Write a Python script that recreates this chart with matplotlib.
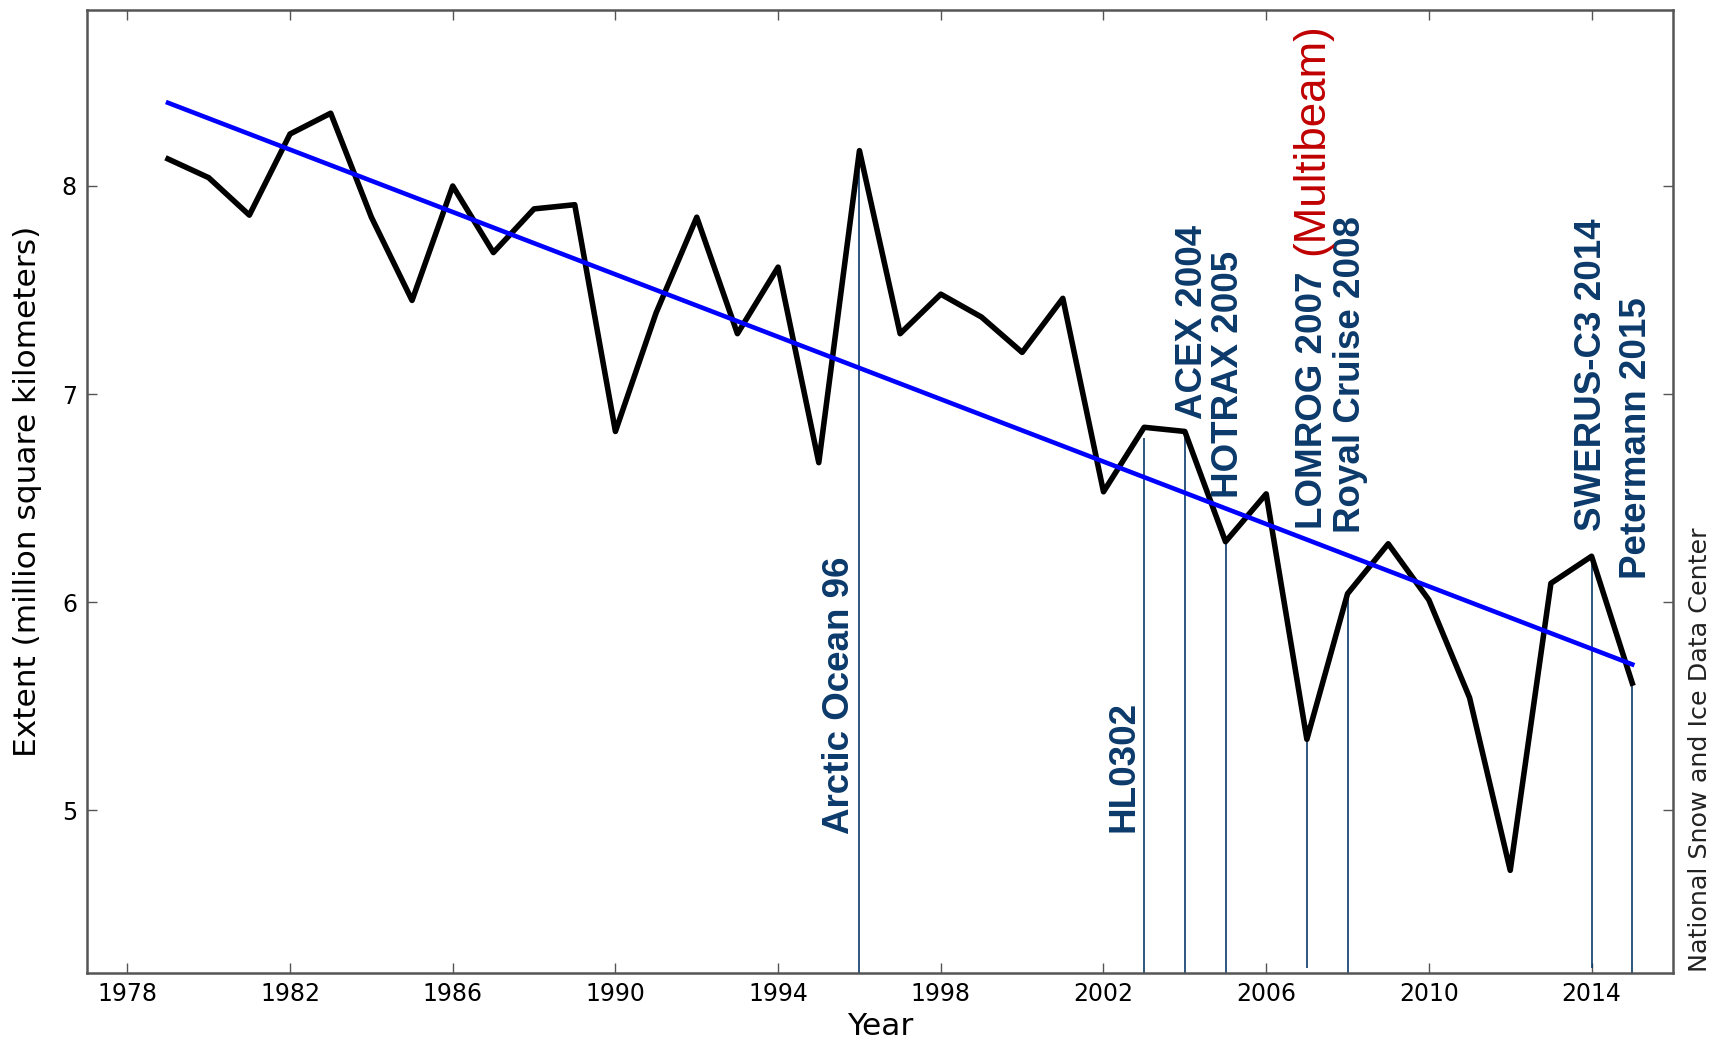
import numpy as np
import matplotlib.pyplot as plt

# Extent per year
years = list(range(1979, 2016))
extent = [8.13, 8.04, 7.86, 8.25, 8.35, 7.85, 7.45, 8.00, 7.68, 7.89,
          7.91, 6.82, 7.39, 7.85, 7.29, 7.61, 6.67, 8.17, 7.29, 7.48,
          7.37, 7.20, 7.46, 6.53, 6.84, 6.82, 6.29, 6.52, 5.34, 6.04,
          6.28, 6.01, 5.54, 4.71, 6.09, 6.22, 5.61]

# trend line end points
trend_years = [1979, 2015]
trend_values = [8.40, 5.70]

# cruises: year, line bottom, line top
cruise_years = [1996, 2003, 2004, 2005, 2007, 2008, 2014, 2015]
cruise_low = [4.218, 4.218, 4.218, 4.218, 4.24, 4.218, 4.24, 4.218]
cruise_high = [8.17, 6.79, 6.80, 6.28, 5.41, 6.03, 6.21, 5.62]

# labels: text, x, bottom y, alignment
label_text = ['Arctic Ocean 96', 'HL0302', 'ACEX 2004', 'HOTRAX 2005',
              'LOMROG 2007', 'Royal Cruise 2008', 'SWERUS-C3 2014',
              'Petermann 2015']
label_x = [1995.93, 2002.93, 2004.19, 2005.08, 2007.13, 2008.07, 2014.0, 2015.1]
label_y = [4.885, 4.894, 6.88, 6.50, 6.35, 6.33, 6.34, 6.11]
label_ha = ['right', 'right', 'center', 'center', 'center', 'center',
            'center', 'center']

xticks = [1978, 1982, 1986, 1990, 1994, 1998, 2002, 2006, 2010, 2014]
yticks = [5, 6, 7, 8]

navy = '#0b3a6b'

fig = plt.figure(figsize=(17.16, 10.44), dpi=100)
ax = fig.add_axes([0.0505, 0.0683, 0.9244, 0.9221])

ax.vlines(cruise_years, cruise_low, cruise_high, color=navy, linewidth=1.2)
ax.plot(years, extent, color='black', linewidth=4)
ax.plot(trend_years, trend_values, color='#0000ff', linewidth=3.3)

for t, x, y, ha in zip(label_text, label_x, label_y, label_ha):
    ax.text(x, y, t, rotation=90, ha=ha, va='bottom', color=navy,
            fontsize=26.5, fontweight='bold', family='Liberation Sans')

ax.text(2007.13, 7.67, '(Multibeam)', rotation=90, ha='center', va='bottom',
        color='#c00000', fontsize=31.6, family='Liberation Sans')

ax.set_xlim(1977, 2016)
ax.set_ylim(4.218, 8.846)
ax.set_xticks(xticks)
ax.set_yticks(yticks)
ax.tick_params(direction='in', length=7, width=1, top=True, right=True,
               labelsize=17, pad=7, color='#555555')
for s in ax.spines.values():
    s.set_color('#555555')
    s.set_linewidth(1.8)

ax.set_xlabel('Year', fontsize=22.5, labelpad=4)
ax.set_ylabel('Extent (million square kilometers)', fontsize=22.5, labelpad=14)

fig.text(0.9907, 0.069, 'National Snow and Ice Data Center', rotation=90,
         ha='center', va='bottom', fontsize=18.3, color='#222222')

fig.savefig('out.png', dpi=100)
